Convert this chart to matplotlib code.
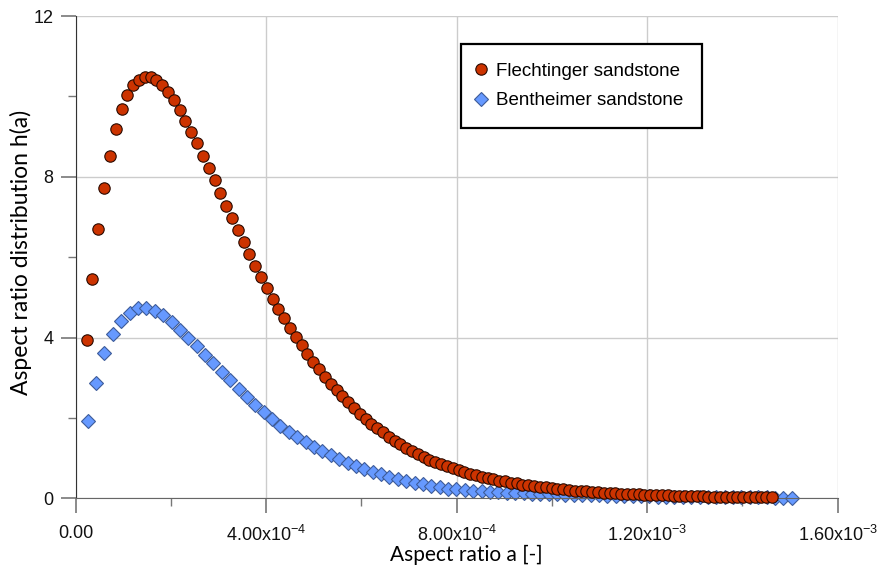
import matplotlib
matplotlib.use("Agg")
import matplotlib.pyplot as plt
from matplotlib.ticker import MultipleLocator, FixedLocator, FixedFormatter

plt.rcParams['font.family'] = ['Lato', 'DejaVu Sans']
plt.rcParams['mathtext.default'] = 'regular'

# Flechtinger sandstone: aspect ratio (x1e-5) and h(a)
flech_a = [2.31, 3.53, 4.75, 5.97, 7.19, 8.41, 9.63, 10.85, 12.07, 13.29,
           14.51, 15.73, 16.95, 18.17, 19.39, 20.61, 21.83, 23.05, 24.27, 25.49,
           26.71, 27.93, 29.15, 30.37, 31.59, 32.81, 34.03, 35.25, 36.47, 37.69,
           38.91, 40.13, 41.35, 42.57, 43.79, 45.01, 46.23, 47.45, 48.67, 49.89,
           51.11, 52.33, 53.55, 54.77, 55.99, 57.21, 58.43, 59.65, 60.87, 62.09,
           63.31, 64.53, 65.75, 66.97, 68.19, 69.41, 70.63, 71.85, 73.07, 74.29,
           75.51, 76.73, 77.95, 79.17, 80.39, 81.61, 82.83, 84.05, 85.27, 86.49,
           87.71, 88.93, 90.15, 91.37, 92.59, 93.81, 95.03, 96.25, 97.47, 98.69,
           99.91, 101.13, 102.35, 103.57, 104.79, 106.01, 107.23, 108.45, 109.67, 110.89,
           112.11, 113.33, 114.55, 115.77, 116.99, 118.21, 119.43, 120.65, 121.87, 123.09,
           124.31, 125.53, 126.75, 127.97, 129.19, 130.41, 131.63, 132.85, 134.07, 135.29,
           136.51, 137.73, 138.95, 140.17, 141.39, 142.61, 143.83, 145.05, 146.2]
flech_h = [3.93, 5.45, 6.69, 7.72, 8.53, 9.18, 9.68, 10.04, 10.28, 10.42,
           10.49, 10.49, 10.42, 10.29, 10.11, 9.90, 9.66, 9.39, 9.12, 8.84,
           8.53, 8.22, 7.92, 7.60, 7.28, 6.97, 6.67, 6.37, 6.07, 5.79,
           5.51, 5.23, 4.96, 4.71, 4.48, 4.25, 4.02, 3.81, 3.58, 3.38,
           3.21, 3.02, 2.85, 2.69, 2.54, 2.39, 2.24, 2.11, 1.98, 1.86,
           1.75, 1.64, 1.53, 1.43, 1.34, 1.25, 1.18, 1.10, 1.03, 0.96,
           0.90, 0.85, 0.80, 0.75, 0.70, 0.65, 0.61, 0.57, 0.54, 0.51,
           0.47, 0.44, 0.42, 0.39, 0.37, 0.34, 0.32, 0.30, 0.28, 0.27,
           0.25, 0.23, 0.22, 0.20, 0.19, 0.18, 0.17, 0.16, 0.15, 0.14,
           0.13, 0.12, 0.115, 0.11, 0.10, 0.095, 0.09, 0.085, 0.08, 0.075,
           0.07, 0.065, 0.06, 0.057, 0.054, 0.05, 0.047, 0.044, 0.042, 0.04,
           0.037, 0.035, 0.033, 0.031, 0.029, 0.027, 0.026, 0.024, 0.023]

# Bentheimer sandstone
benth_a = [2.52, 4.28, 6.04, 7.80, 9.56, 11.32, 13.08, 14.84, 16.60, 18.36,
           20.12, 21.88, 23.64, 25.40, 27.16, 28.92, 30.68, 32.44, 34.20, 35.96,
           37.72, 39.48, 41.24, 43.00, 44.76, 46.52, 48.28, 50.04, 51.80, 53.56,
           55.32, 57.08, 58.84, 60.60, 62.36, 64.12, 65.88, 67.64, 69.40, 71.16,
           72.92, 74.68, 76.44, 78.20, 79.96, 81.72, 83.48, 85.24, 87.00, 88.76,
           90.52, 92.28, 94.04, 95.80, 97.56, 99.32, 101.08, 102.84, 104.60, 106.36,
           108.12, 109.88, 111.64, 113.40, 115.16, 116.92, 118.68, 120.44, 122.20, 123.96,
           125.72, 127.48, 129.24, 131.00, 132.76, 134.52, 136.28, 138.04, 139.80, 141.56,
           143.32, 145.08, 146.84, 148.60, 150.40]
benth_h = [1.93, 2.88, 3.61, 4.10, 4.42, 4.62, 4.73, 4.73, 4.67, 4.55,
           4.39, 4.20, 4.00, 3.79, 3.57, 3.36, 3.15, 2.94, 2.72, 2.51,
           2.32, 2.14, 1.98, 1.81, 1.65, 1.53, 1.40, 1.28, 1.18, 1.08,
           0.98, 0.88, 0.80, 0.73, 0.66, 0.60, 0.53, 0.48, 0.43, 0.38,
           0.35, 0.31, 0.28, 0.24, 0.22, 0.20, 0.185, 0.17, 0.16, 0.15,
           0.14, 0.13, 0.12, 0.115, 0.11, 0.10, 0.095, 0.09, 0.085, 0.08,
           0.075, 0.07, 0.066, 0.062, 0.058, 0.054, 0.05, 0.047, 0.044, 0.041,
           0.038, 0.036, 0.034, 0.032, 0.03, 0.028, 0.026, 0.025, 0.023, 0.022,
           0.021, 0.02, 0.019, 0.018, 0.017]

xticks = [0.0, 4e-4, 8e-4, 1.2e-3, 1.6e-3]
xticklabels = ['0.00', '4.00x10$^{-4}$', '8.00x10$^{-4}$',
               '1.20x10$^{-3}$', '1.60x10$^{-3}$']

fig = plt.figure(figsize=(8.79, 5.70), dpi=100)
ax = fig.add_axes([0.0861, 0.1258, 0.8669, 0.846])

ax.plot([a * 1e-5 for a in flech_a], flech_h, 'o', ms=8.2, mfc='#CC3300',
        mec='#2a0a00', mew=0.8, label='Flechtinger sandstone', clip_on=False, zorder=3)
ax.plot([a * 1e-5 for a in benth_a], benth_h, 'D', ms=7, mfc='#6699FF',
        mec='#3d5c99', mew=0.8, label='Bentheimer sandstone', clip_on=False, zorder=2)

ax.set_xlim(0, 1.6e-3)
ax.set_ylim(0, 12)
ax.xaxis.set_major_locator(FixedLocator(xticks))
ax.xaxis.set_major_formatter(FixedFormatter(xticklabels))
ax.xaxis.set_minor_locator(MultipleLocator(2e-4))
ax.yaxis.set_major_locator(MultipleLocator(4))
ax.yaxis.set_minor_locator(MultipleLocator(2))

ax.grid(True, which='major', color='#cccccc', linewidth=1.0, zorder=0)
ax.set_axisbelow(True)
for s in ['top', 'right']:
    ax.spines[s].set_visible(False)
ax.spines['left'].set_color('#333333')
ax.spines['bottom'].set_color('#666666')
ax.tick_params(which='major', length=11, width=1.2, color='#777777',
               labelsize=13, labelcolor='#111111')
ax.tick_params(axis='x', which='major', pad=8)
ax.tick_params(axis='y', which='major', pad=5)
ax.tick_params(which='minor', length=6, width=1.0, color='#777777')
for lab in ax.get_xticklabels() + ax.get_yticklabels():
    lab.set_family(['Liberation Sans', 'DejaVu Sans'])

ax.set_xlabel('Aspect ratio a [-]', fontsize=15)
ax.xaxis.set_label_coords(0.512, -0.0975)
ax.set_ylabel('Aspect ratio distribution h(a)', fontsize=16.5)
ax.yaxis.set_label_coords(-0.0573, 0.51)

leg = ax.legend(loc='upper left', bbox_to_anchor=(0.5056, 0.942), frameon=True,
                fancybox=False, edgecolor='black', framealpha=1,
                prop={'family': 'Liberation Sans', 'size': 13.5},
                handletextpad=0.7, handlelength=0.2,
                borderpad=0.98, labelspacing=0.67, borderaxespad=0)
leg.get_frame().set_linewidth(1.6)

fig.savefig('out.png', dpi=100)
